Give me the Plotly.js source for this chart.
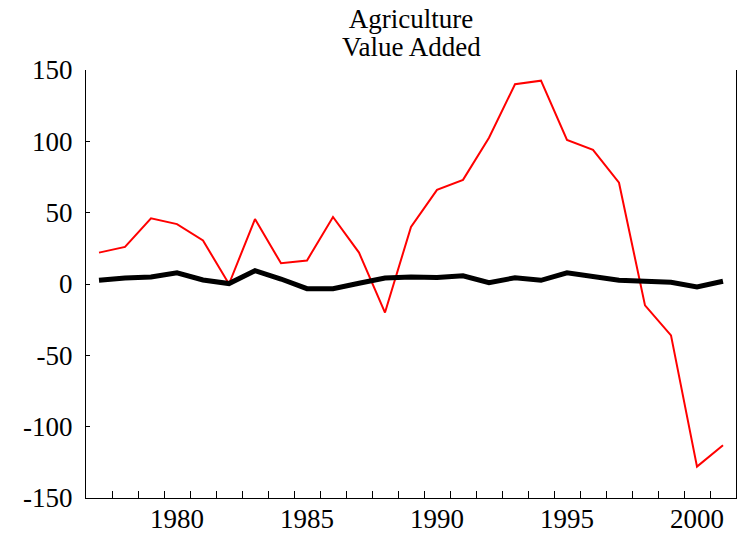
<!DOCTYPE html>
<html>
<head>
<meta charset="utf-8">
<script src="https://cdn.plot.ly/plotly-3.0.1.min.js"></script>
<style>html,body{margin:0;padding:0;background:#fff;}#chart{width:740px;height:536px;}</style>
</head>
<body>
<div id="chart"></div>
<script>
var years = [1977,1978,1979,1980,1981,1982,1983,1984,1985,1986,1987,1988,1989,1990,1991,1992,1993,1994,1995,1996,1997,1998,1999,2000,2001];
var redSeries = [22,26,46,42,30.5,0,45.5,14.5,16.5,47,22,-20,40,66,73,102.5,140,142.5,101,94,71,-15,-36,-128,-113];
var blackSeries = [2.6,4.2,4.9,7.9,2.8,0.3,9.3,3.5,-3.3,-3.3,0.5,4.2,4.9,4.6,5.8,0.9,4.4,2.6,7.9,5.1,2.6,1.9,1.2,-2.1,1.9];
var xLabelYears = [1980,1985,1990,1995,2000];
var yTickValues = [-150,-100,-50,0,50,100,150];
var yTickLabels = ["-150","-100","-50","0","50","100","150"];
var titleLines = ["Agriculture","Value Added"];

var serif = "'Liberation Serif', 'Times New Roman', serif";
var traces = [
  {x: years, y: blackSeries, xaxis: 'x2', yaxis: 'y', type: 'scatter', mode: 'lines',
   line: {color: '#000000', width: 5}},
  {x: years, y: redSeries, xaxis: 'x', yaxis: 'y', type: 'scatter', mode: 'lines',
   line: {color: '#ff0000', width: 2}}
];
var layout = {
  width: 740, height: 536,
  margin: {l: 86, r: 4, t: 70, b: 38},
  paper_bgcolor: '#ffffff', plot_bgcolor: '#ffffff',
  showlegend: false, hovermode: false,
  font: {family: serif, size: 27, color: '#000'},
  title: {text: titleLines[0], font: {family: serif, size: 27, color: '#000'},
          x: 0.5, xref: 'paper', xanchor: 'center', y: 1 - 19/536, yref: 'container', yanchor: 'middle'},
  annotations: [
    {text: titleLines[1], xref: 'paper', yref: 'paper', x: 0.5, y: 1, showarrow: false,
     xanchor: 'center', yanchor: 'middle', font: {family: serif, size: 27, color: '#000'}}
  ],
  xaxis: {range: [1976.5, 2001.5], tickmode: 'array', tickvals: xLabelYears, ticks: '',
          showline: true, linecolor: '#000', linewidth: 1, showgrid: false, zeroline: false,
          tickfont: {family: serif, size: 27, color: '#000'}, ticklabelstandoff: -3, fixedrange: true},
  xaxis2: {range: [1976.5, 2001.5], overlaying: 'x', anchor: 'y', side: 'bottom',
           tickmode: 'linear', tick0: 1976.5, dtick: 1, ticks: 'inside', ticklen: 7, tickcolor: '#000',
           showticklabels: false, showline: false, showgrid: false, zeroline: false, fixedrange: true},
  yaxis: {range: [-150, 150], tickmode: 'array', tickvals: yTickValues, ticktext: yTickLabels,
          ticks: 'inside', ticklen: 4, tickcolor: '#000', showline: true, linecolor: '#000', linewidth: 1,
          mirror: true, showgrid: false, zeroline: false,
          tickfont: {family: serif, size: 27, color: '#000'}, ticklabelstandoff: 7, fixedrange: true}
};
layout.annotations[0].y = 1 + (70 - 47) / 428;
Plotly.newPlot('chart', traces, layout, {displayModeBar: false, staticPlot: true});
</script>
</body>
</html>
